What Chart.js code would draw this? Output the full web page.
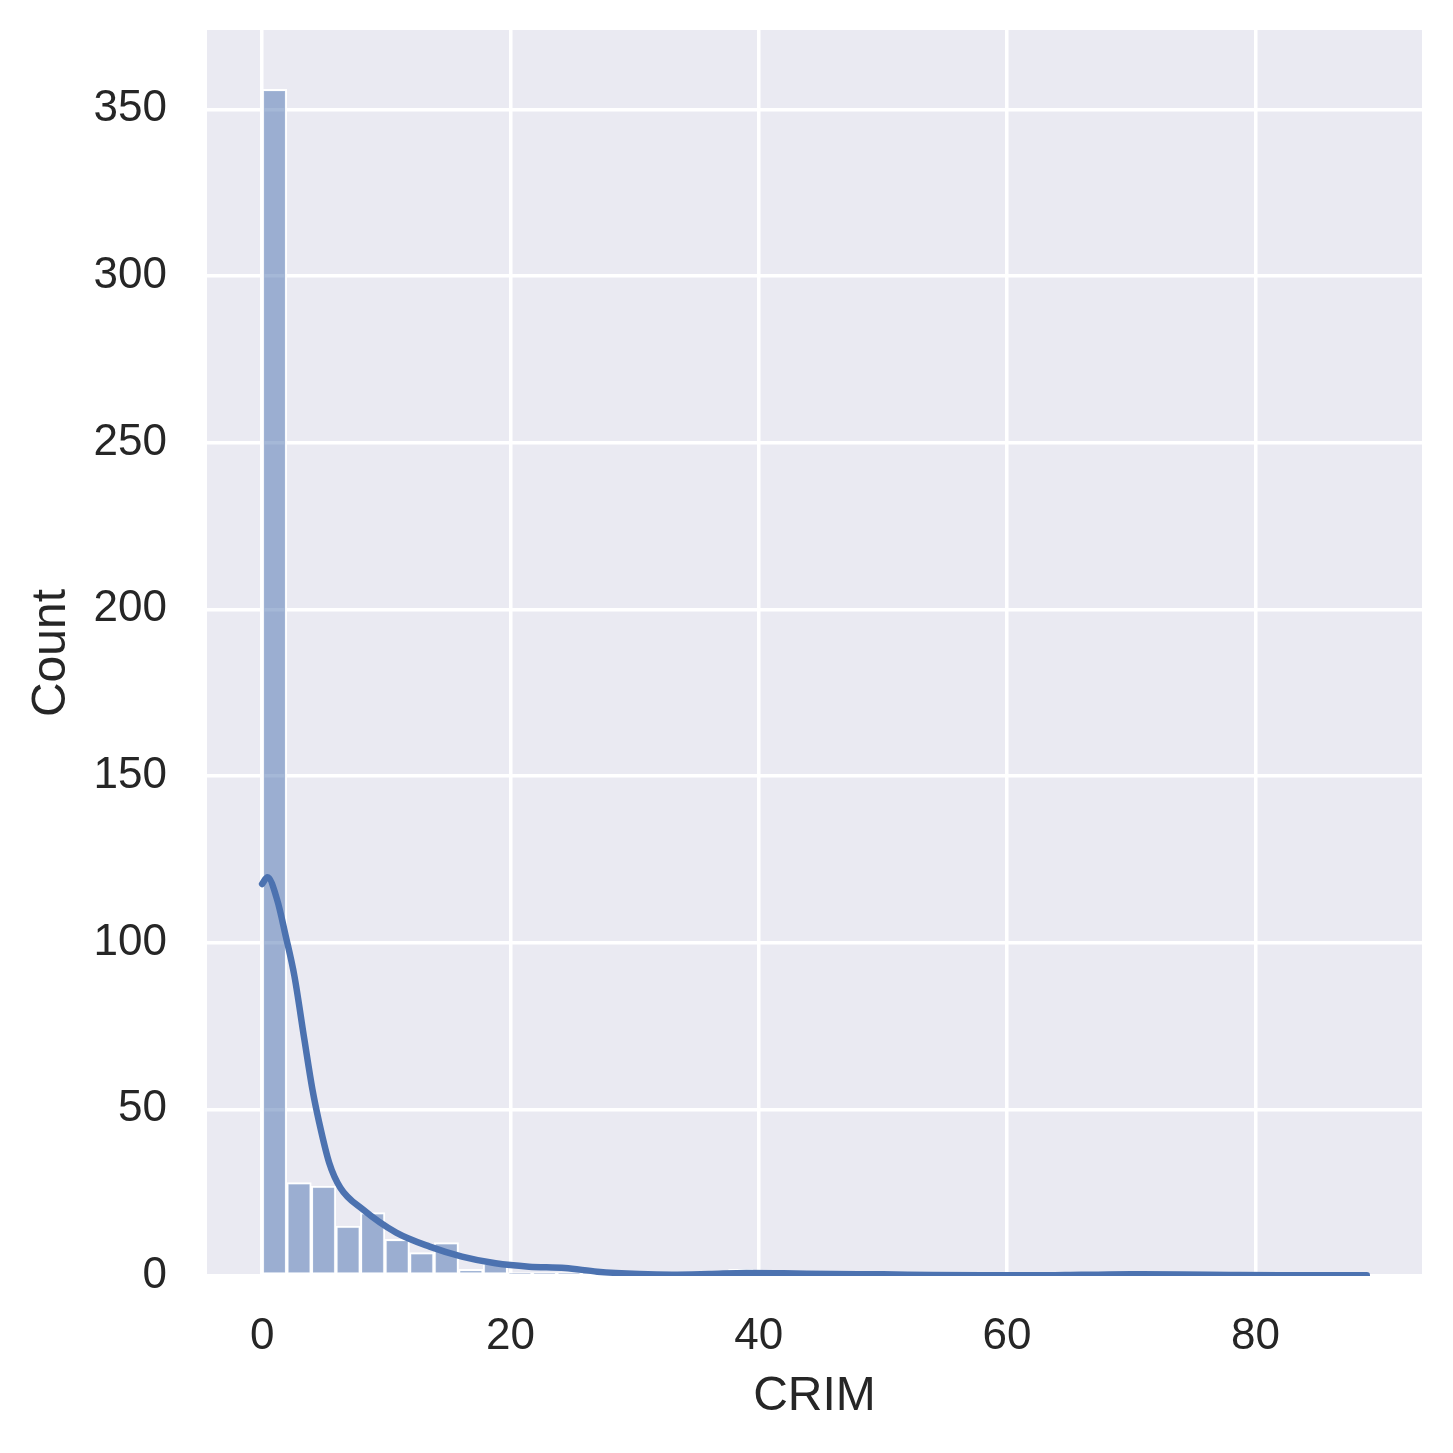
<!DOCTYPE html>
<html>
<head>
<meta charset="utf-8">
<script src="https://cdn.jsdelivr.net/npm/chart.js@4.4.0/dist/chart.umd.min.js"></script>
<style>
  html, body { margin: 0; padding: 0; background: #ffffff; }
  #wrap { width: 1453px; height: 1453px; }
</style>
</head>
<body>
<div id="wrap"><canvas id="c" width="1453" height="1453"></canvas></div>
<script>
// ---- data ----
const binStart = 0.00632;
const binWidth = 1.97699;
const binCounts = [356, 28, 27, 15, 19, 11, 7, 10, 2, 4,
                   1, 1, 1, 1, 1, 0, 0, 0, 0, 2,
                   0, 1, 0, 1, 0, 1, 0, 0, 0, 0,
                   0, 0, 0, 0, 1, 0, 0, 1, 0, 0,
                   0, 0, 0, 0, 1];
const kdeX = [0, 0.43, 1.2, 1.9, 2.6, 3.4, 4.05, 4.6, 5.4, 6.3, 8.1, 10.8, 13.5, 16.1, 18.8,
              21.5, 24.4, 27, 30.4, 33, 36, 39, 42, 46, 50, 54, 58, 62, 66, 70, 74, 78, 82, 86, 88.97];
const kdeY = [117.6, 119.6, 113, 102, 90, 71, 56, 46, 34, 26.5, 20, 13, 8.8, 5.8, 3.8,
              2.8, 2.4, 1.3, 0.6, 0.4, 0.6, 0.9, 0.8, 0.6, 0.5, 0.3, 0.2, 0.2, 0.35, 0.5, 0.45, 0.3, 0.2, 0.2, 0.2];
const xTicks = [0, 20, 40, 60, 80];
const yTicks = [0, 50, 100, 150, 200, 250, 300, 350];
const xLabel = "CRIM";
const yLabel = "Count";

const barData = binCounts.map((c, i) => ({ x: binStart + (i + 0.5) * binWidth, y: c }));
const kdeData = kdeX.map((x, i) => ({ x: x, y: kdeY[i] }));

const FONT = "'Liberation Sans', Arial, sans-serif";
const TEXT = "#262626";

const bgPlugin = {
  id: 'bg',
  beforeDraw(chart) {
    const { ctx, chartArea: a } = chart;
    ctx.save();
    ctx.fillStyle = '#ffffff';
    ctx.fillRect(0, 0, chart.width, chart.height);
    ctx.fillStyle = '#EAEAF2';
    ctx.fillRect(a.left, a.top, a.right - a.left, a.bottom - a.top);
    ctx.restore();
  },
  afterDraw(chart) {
    const { ctx, chartArea: a } = chart;
    ctx.save();
    ctx.fillStyle = TEXT;
    ctx.font = "48px " + FONT;
    ctx.textAlign = 'center';
    ctx.textBaseline = 'middle';
    ctx.fillText(xLabel, (a.left + a.right) / 2, 1397);
    ctx.translate(52, (a.top + a.bottom) / 2);
    ctx.rotate(-Math.PI / 2);
    ctx.fillText(yLabel, 0, 0);
    ctx.restore();
  }
};

function noPad(s) { s.paddingTop = 0; s.paddingBottom = 0; s.paddingLeft = 0; s.paddingRight = 0; }

new Chart(document.getElementById('c'), {
  type: 'bar',
  data: {
    datasets: [
      {
        type: 'line',
        data: kdeData,
        borderColor: '#4C72B0',
        borderWidth: 6.5,
        pointRadius: 0,
        fill: false,
        cubicInterpolationMode: 'monotone',
        borderCapStyle: 'round',
        borderJoinStyle: 'round',
        order: 0
      },
      {
        type: 'bar',
        data: barData,
        backgroundColor: 'rgba(76,114,176,0.5)',
        borderColor: '#ffffff',
        borderWidth: 2,
        borderSkipped: false,
        barPercentage: 1.0,
        categoryPercentage: 1.0,
        order: 1
      }
    ]
  },
  options: {
    responsive: false,
    animation: false,
    devicePixelRatio: 1,
    layout: { padding: { left: 0, top: 30, right: 31, bottom: 0 } },
    plugins: { legend: { display: false }, tooltip: { enabled: false } },
    scales: {
      x: {
        type: 'linear',
        offset: false,
        min: -4.44,
        max: 93.42,
        afterBuildTicks(s) { s.ticks = xTicks.map(v => ({ value: v })); },
        afterFit(s) { s.height = 177; noPad(s); },
        grid: { color: '#ffffff', lineWidth: 3.5, drawTicks: false, offset: false },
        border: { display: false },
        ticks: { color: TEXT, font: { size: 44, family: FONT }, padding: 34, maxRotation: 0 }
      },
      y: {
        type: 'linear',
        min: 0,
        max: 373.8,
        afterBuildTicks(s) { s.ticks = yTicks.map(v => ({ value: v })); },
        afterFit(s) { s.width = 207; noPad(s); },
        grid: { color: '#ffffff', lineWidth: 3.5, drawTicks: false },
        border: { display: false },
        ticks: { color: TEXT, font: { size: 44, family: FONT }, padding: 40 }
      }
    }
  },
  plugins: [bgPlugin]
});
</script>
</body>
</html>
